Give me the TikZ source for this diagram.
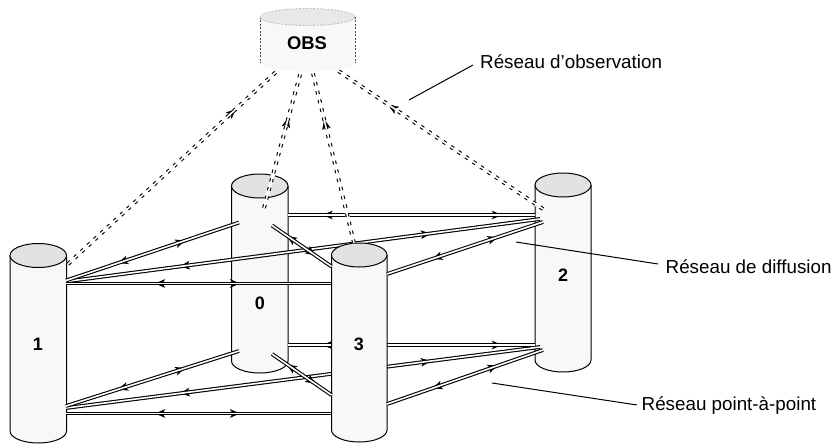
\documentclass[tikz,border=0pt]{standalone}
\usepackage{fontspec}
\setmainfont{Liberation Sans}
\usetikzlibrary{arrows.meta,decorations.markings}
\definecolor{cylbody}{HTML}{F8F8F8}
\definecolor{cyltop}{HTML}{E2E2E2}
\definecolor{obstop}{HTML}{E8E8E8}
\tikzset{
  headtip/.tip={Stealth[length=10pt,width=8.5pt,inset=2.5pt]},
  num/.style={font=\bfseries\fontsize{18}{18}\selectfont,inner sep=0pt},
  lab/.style={font=\fontsize{18.8}{19}\selectfont,anchor=west,inner sep=0pt},
  leader/.style={draw=black,line width=1pt},
  cylline/.style={draw=black,line width=1pt},
}
% link from #1 to #2, heads at positions #3 (towards #1) and #4 (towards #2)
\newcommand{\twoway}[4]{%
  \path[draw=black,line width=3.8pt,decoration={markings,
     mark=at position #3 with {\arrowreversed{headtip}},
     mark=at position #4 with {\arrow{headtip}}},postaction={decorate}] (#1) -- (#2);
  \draw[white,line width=1.6pt] (#1) -- (#2);
}
% dashed observation link from #1 to #2, head towards #2 at #3
\newcommand{\obslink}[3]{%
  \draw[white,line width=4pt] (#1) -- (#2);
  \path[decoration={markings,mark=at position #3 with {\arrow{headtip}}},postaction={decorate}] (#1) -- (#2);
  \draw[black,line width=3.8pt,dash pattern=on 3.5pt off 5.5pt] (#1) -- (#2);
  \draw[white,line width=1.6pt] (#1) -- (#2);
}
% cylinder: left, right, centre of top, centre of bottom
\newcommand{\cylinder}[4]{%
  \path[fill=cylbody] (#1,#3) -- (#1,#4) arc[start angle=180,end angle=0,x radius={(#2-#1)/2},y radius=12] -- (#2,#3) -- cycle;
  \draw[cylline] (#1,#3) -- (#1,#4) arc[start angle=180,end angle=0,x radius={(#2-#1)/2},y radius=12] -- (#2,#3);
  \draw[cylline,fill=cyltop] ({(#1+#2)/2},#3) ellipse[x radius={(#2-#1)/2},y radius=12];
}
\begin{document}
\begin{tikzpicture}[x=1pt,y=-1pt]
\useasboundingbox (0,0) rectangle (835,444);
% link ends
\coordinate (a1) at (66,280.5);  \coordinate (a0) at (239,222.5);
\coordinate (b1) at (66,281.5);  \coordinate (b2) at (540,219);
\coordinate (c1) at (66,283.5);  \coordinate (c3) at (331,283.5);
\coordinate (d0) at (272,225.5); \coordinate (d3) at (331.5,266.5);
\coordinate (e0) at (288,215);   \coordinate (e2) at (535,215);
\coordinate (f3) at (387,274);   \coordinate (f2) at (543,222);
\coordinate (g1) at (66,406);    \coordinate (g0) at (239,351);
\coordinate (h1) at (66,408);    \coordinate (h2) at (540,347);
\coordinate (i1) at (66,413.5);  \coordinate (i3) at (331,413.5);
\coordinate (j0) at (272,354);   \coordinate (j3) at (331.5,395);
\coordinate (k0) at (288,345);   \coordinate (k2) at (535,345);
\coordinate (l3) at (387,404);   \coordinate (l2) at (543,350);
\coordinate (m1) at (68,264);    \coordinate (mo) at (289,60);
\coordinate (n0) at (264,208);   \coordinate (no) at (301,71);
\coordinate (p3) at (354,243);   \coordinate (po) at (310,61);
\coordinate (q2) at (543,209);   \coordinate (qo) at (337,70);
% cylinders at the back
\cylinder{231.5}{288}{186}{361}
\cylinder{535}{591}{185}{360}
\cylinder{10}{66.5}{255.5}{431}
% links that pass behind cylinder 3
\twoway{b1}{b2}{.24}{.77}
\twoway{e0}{e2}{.14}{.866}
\twoway{h1}{h2}{.24}{.77}
\twoway{k0}{k2}{.14}{.866}
\cylinder{331.5}{387}{255}{430}
% other links
\twoway{a1}{a0}{.30}{.69}
\twoway{c1}{c3}{.336}{.657}
\twoway{d0}{d3}{.25}{.73}
\twoway{f3}{f2}{.29}{.71}
\twoway{g1}{g0}{.30}{.69}
\twoway{i1}{i3}{.336}{.657}
\twoway{j0}{j3}{.25}{.73}
\twoway{l3}{l2}{.29}{.71}
% observation links
\obslink{m1}{mo}{.76}
\obslink{n0}{no}{.66}
\obslink{p3}{po}{.68}
\obslink{q2}{qo}{.75}
% observer
\path[fill=cylbody] (260,17) -- (260,63) arc[start angle=180,end angle=0,x radius=47.5,y radius=8.5] -- (355,17) -- cycle;
\draw[black!70,line width=1pt,dash pattern=on 2pt off 1.5pt] (260,17) -- (260,63) (355,17) -- (355,63);
\draw[black!25,fill=obstop,line width=.8pt,dash pattern=on 2pt off 1.5pt] (307.5,17) ellipse[x radius=47.5,y radius=8.5];
% texts
\node[num,font=\bfseries\fontsize{18.4}{18}\selectfont] (obs) at (307,43) {OBS};
\node[num] (n0t) at (260,303) {0};
\node[num] (n1t) at (38,344) {1};
\node[num] (n2t) at (563,275) {2};
\node[num] (n3t) at (359,344) {3};
\node[lab] (la) at (480,62) {Réseau d’observation};
\node[lab] (lb) at (665.5,267) {Réseau de diffusion};
\node[lab] (lc) at (641.5,406) {Réseau point-à-point};
% leaders
\coordinate (la0) at (409,100); \coordinate (la1) at (473,65);
\coordinate (lb0) at (516,242); \coordinate (lb1) at (658,264);
\coordinate (lc0) at (492,383); \coordinate (lc1) at (637,405);
\draw[leader] (la0) -- (la1);
\draw[leader] (lb0) -- (lb1);
\draw[leader] (lc0) -- (lc1);
\end{tikzpicture}
\end{document}
